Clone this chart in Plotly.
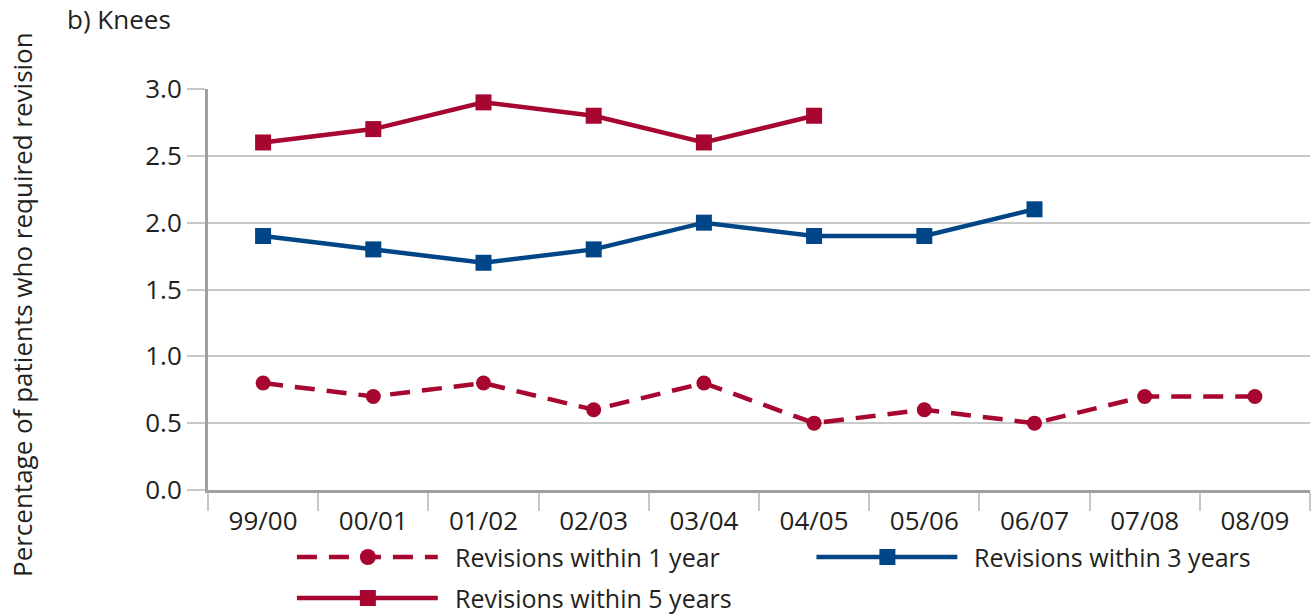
import plotly.graph_objects as go

seasons = ['99/00', '00/01', '01/02', '02/03', '03/04', '04/05', '05/06', '06/07', '07/08', '08/09']
within_1_year = [0.8, 0.7, 0.8, 0.6, 0.8, 0.5, 0.6, 0.5, 0.7, 0.7]
within_3_years = [1.9, 1.8, 1.7, 1.8, 2.0, 1.9, 1.9, 2.1]
within_5_years = [2.6, 2.7, 2.9, 2.8, 2.6, 2.8]

red = '#A6062F'
blue = '#004687'
grey_grid = '#C8C8C8'
grey_axis = '#A0A0A0'
text_col = '#231F20'
font_name = 'Open Sans'

fig = go.Figure()

fig.add_trace(go.Scatter(
    x=seasons, y=within_1_year, mode='lines+markers',
    name='Revisions within 1 year',
    line=dict(color=red, width=4.5, dash='20px,12px'),
    marker=dict(symbol='circle', size=15, color=red),
))
fig.add_trace(go.Scatter(
    x=seasons[:len(within_3_years)], y=within_3_years, mode='lines+markers',
    name='Revisions within 3 years',
    line=dict(color=blue, width=4.5),
    marker=dict(symbol='square', size=16, color=blue),
))
fig.add_trace(go.Scatter(
    x=seasons[:len(within_5_years)], y=within_5_years, mode='lines+markers',
    name='Revisions within 5 years',
    line=dict(color=red, width=4.5),
    marker=dict(symbol='square', size=16, color=red),
))

# hand-made legend below the plot (long symbol lines like the original)
W, H = 1103, 401   # plot area size in px
def px_x(p):
    return (p - 208) / W
def px_y(p):
    return (490 - p) / H

legend_items = [
    ('Revisions within 1 year', red, 'dash', 'circle', 297, 557),
    ('Revisions within 3 years', blue, 'solid', 'rect', 817, 557),
    ('Revisions within 5 years', red, 'solid', 'rect', 297, 598),
]
shapes = []
annotations = []
for label, col, dash, sym, x0, y0 in legend_items:
    shapes.append(dict(type='line', xref='paper', yref='paper',
                       x0=px_x(x0), x1=px_x(x0 + 141), y0=px_y(y0), y1=px_y(y0),
                       line=dict(color=col, width=4.5, dash='20px,12px' if dash == 'dash' else 'solid')))
    shapes.append(dict(type=sym, xref='paper', yref='paper',
                       xsizemode='pixel', ysizemode='pixel',
                       xanchor=px_x(x0 + 71), yanchor=px_y(y0),
                       x0=-8, x1=8, y0=-8, y1=8,
                       fillcolor=col, line=dict(width=0)))
    annotations.append(dict(xref='paper', yref='paper', x=px_x(x0 + 156), y=px_y(y0),
                            xanchor='left', yanchor='middle', showarrow=False,
                            text=label, font=dict(size=25, color=text_col, family=font_name)))

annotations.append(dict(xref='paper', yref='paper', x=0, y=px_y(305), xshift=-186,
                        xanchor='center', yanchor='middle', showarrow=False, textangle=-90,
                        text='Percentage of patients who required revision',
                        font=dict(size=26, color=text_col, family=font_name)))

fig.update_layout(
    width=1313, height=616,
    margin=dict(l=208, r=3, t=89, b=126),
    paper_bgcolor='white', plot_bgcolor='white',
    font=dict(family=font_name, size=25, color=text_col),
    title=dict(text='b) Knees', x=67 / 1313, xanchor='left', y=1 - 20 / 616, yanchor='middle',
               font=dict(size=26, color=text_col, family=font_name)),
    showlegend=False,
    shapes=shapes,
    annotations=annotations,
)
fig.update_xaxes(
    type='category', range=[-0.5, 9.5],
    showgrid=False, showline=True, linecolor=grey_axis, linewidth=3,
    ticks='outside', tickson='boundaries', ticklen=18, tickcolor=grey_grid, tickwidth=2,
    tickfont=dict(size=26), ticklabelstandoff=6,
)
fig.update_yaxes(
    range=[0, 3.0], tickvals=[0, 0.5, 1.0, 1.5, 2.0, 2.5, 3.0], tickformat='.1f',
    showgrid=True, gridcolor=grey_grid, gridwidth=2, zeroline=False,
    showline=True, linecolor=grey_axis, linewidth=3,
    ticks='outside', ticklen=18, tickcolor=grey_grid, tickwidth=2,
    tickfont=dict(size=26),
)

fig.write_html('out.html', config={'displayModeBar': False},
               post_script="document.body.style.margin='0';")
